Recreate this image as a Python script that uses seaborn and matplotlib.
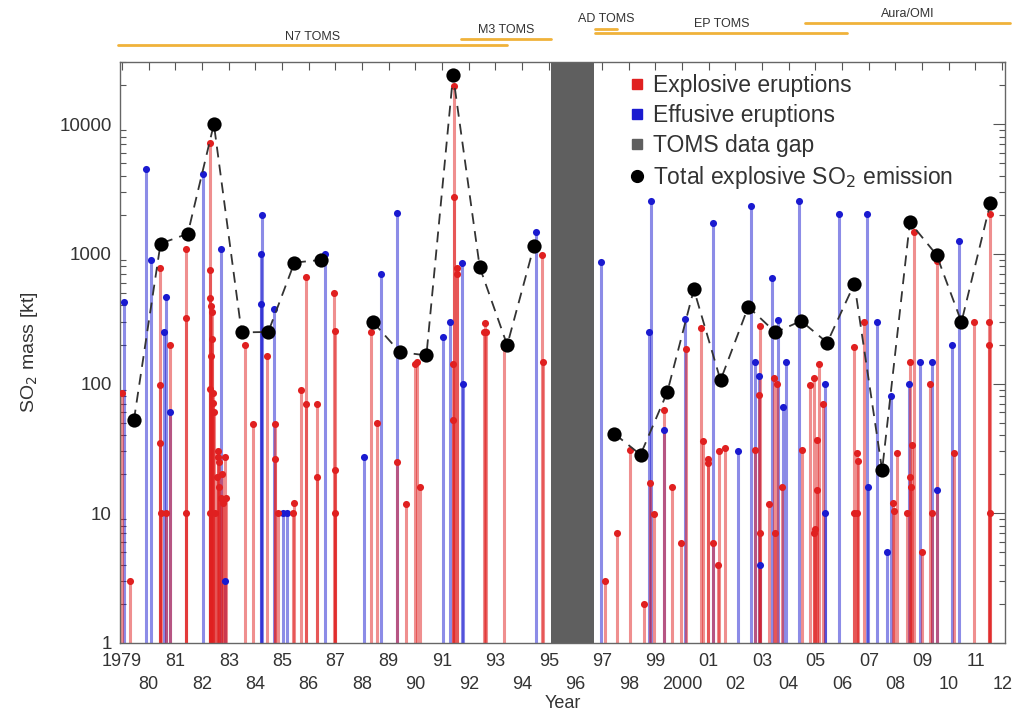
"""
Volcanic SO2 emissions 1979-2011 (TOMS / OMI era): stem plot on a log axis.
"""
import matplotlib
matplotlib.use("Agg")
import matplotlib.pyplot as plt
import matplotlib.transforms as mtransforms
from matplotlib.lines import Line2D
import pandas as pd
import seaborn as sns

# ---- explosive eruptions (red): decimal year, SO2 mass [kt]
EXPL_YEAR = [
    1979.00, 1979.28,
    1980.41, 1980.41, 1980.43, 1980.45, 1980.78, 1980.65,
    1981.38, 1981.38, 1981.38,
    1982.31, 1982.28, 1982.30, 1982.33, 1982.36, 1982.38, 1982.32, 1982.30,
    1982.40, 1982.42, 1982.60, 1982.65, 1982.55, 1982.62, 1982.70, 1982.30,
    1982.50, 1982.45, 1982.58, 1982.75, 1982.80, 1982.85, 1982.90,
    1983.60, 1983.91,
    1984.44, 1984.72, 1984.72, 1984.85, 1985.40, 1985.46,
    1985.72, 1985.90, 1985.90,
    1986.31, 1986.31, 1986.94, 1986.97, 1986.97, 1986.97,
    1988.34, 1988.54,
    1989.31, 1989.66,
    1990.00, 1990.06, 1990.16,
    1991.44, 1991.44, 1991.42, 1991.42, 1991.56, 1991.56,
    1992.56, 1992.62, 1992.65,
    1993.32,
    1994.75, 1994.77,
    1997.12, 1997.54,
    1998.04, 1998.56, 1998.79, 1998.94,
    1999.31, 1999.62, 1999.94,
    2000.15, 2000.69, 2000.77, 2000.96, 2000.98,
    2001.16, 2001.35, 2001.37, 2001.62,
    2002.75, 2002.87, 2002.91, 2002.91,
    2003.25, 2003.46, 2003.56, 2003.50, 2003.75,
    2004.50, 2004.79, 2004.94, 2005.04, 2005.04, 2004.96, 2005.00,
    2005.12, 2005.29,
    2006.46, 2006.81, 2006.56, 2006.58, 2006.56, 2006.46,
    2007.91, 2007.93,
    2008.06, 2008.69, 2008.56, 2008.62, 2008.54, 2008.44, 2008.58,
    2009.00, 2009.54, 2009.31, 2009.375,
    2010.19, 2010.94,
    2011.50, 2011.50, 2011.54, 2011.56,
]
EXPL_KT = [
    85, 3,
    780, 97, 35, 10, 200, 10,
    1100, 318, 10,
    7100, 757, 453, 395, 356, 221, 162, 91,
    85, 71, 27, 25, 19, 16, 13, 10,
    10, 60, 30, 20, 12, 27, 13,
    200, 49,
    164, 49, 26, 10, 10, 12,
    89, 660, 70,
    70, 19, 500, 253, 21.5, 10,
    251, 49.5,
    24.7, 11.7,
    141, 146, 15.9,
    19800, 2735, 141, 52, 774, 699,
    251, 292, 251,
    190,
    984, 147,
    3, 7,
    31, 2, 17, 9.8,
    62, 15.9, 5.9,
    185, 269, 36, 24.6, 26,
    5.9, 4, 30, 32,
    31, 81.5, 278, 7,
    11.7, 111, 100, 7, 16,
    31, 97, 111, 37, 15, 7, 7.5,
    141, 69,
    191, 298, 29, 25.5, 10, 10,
    12, 10.5,
    29, 1480, 146, 33.6, 19, 10, 16,
    5, 880, 100, 10,
    29, 298,
    298, 198, 10, 2013,
]

# ---- effusive eruptions (blue)
EFFU_YEAR = [
    1979.06, 1979.90, 1980.09, 1980.56, 1980.65, 1980.81,
    1982.03, 1982.71, 1982.84,
    1984.23, 1984.20, 1984.22, 1984.69, 1985.05, 1985.20, 1986.60,
    1988.06, 1988.69, 1989.31,
    1991.04, 1991.31, 1991.75, 1991.77, 1994.52,
    1996.94, 1998.75, 1998.84, 1999.31, 2000.12, 2001.15,
    2002.10, 2002.60, 2002.75, 2002.87, 2002.91,
    2003.37, 2003.59, 2003.79, 2003.91, 2004.375,
    2005.37, 2005.34, 2005.875, 2006.94, 2006.96,
    2007.31, 2007.69, 2007.84, 2008.50, 2008.91,
    2009.375, 2009.56, 2010.125, 2010.375,
]
EFFU_KT = [
    423, 4550, 900, 250, 462, 60,
    4140, 1100, 3,
    2010, 1000, 408, 374, 10, 10, 1000,
    27, 699, 2080,
    227, 298, 846, 100, 1480,
    858, 248, 2555, 44, 312, 1730,
    30, 2340, 146, 115, 4,
    653, 308, 66, 146, 2555,
    100, 10, 2013, 2013, 16,
    298, 5, 80, 100, 146,
    146, 15, 198, 1249,
]

# ---- annual total explosive SO2 (black), segments split at data breaks
TOTAL_YEAR = [
    1979.44, 1980.44, 1981.46, 1982.44, 1983.48, 1984.48, 1985.46, 1986.44,
    1988.41, 1989.41, 1990.41, 1991.41, 1992.41, 1993.44, 1994.44,
    1997.46, 1998.44, 1999.44, 2000.44, 2001.44, 2002.48, 2003.50, 2004.46,
    2005.44, 2006.46, 2007.50, 2008.54, 2009.54, 2010.475, 2011.56,
]
TOTAL_KT = [
    52, 1200, 1430, 10000, 248, 250, 857, 897,
    298, 175, 165, 23800, 790, 198, 1142,
    41, 28.3, 85.5, 532, 106, 391, 248, 304,
    207, 589, 21.5, 1755, 983, 298, 2470,
]
TOTAL_SEGMENT = [0] * 8 + [1] * 7 + [2] * 15

GAP_START, GAP_END = 1995.1, 1996.68

# ---- satellite instruments (name, start, end, bar height / label height in axes coords)
INSTR_NAME = ["N7 TOMS", "M3 TOMS", "AD TOMS", "EP TOMS", "Aura/OMI"]
INSTR_START = [1978.85, 1991.70, 1996.75, 1996.75, 2004.60]
INSTR_END = [1993.45, 1995.10, 1997.55, 2006.20, 2012.30]
INSTR_BAR_Y = [1.029, 1.040, 1.057, 1.050, 1.067]
INSTR_TXT_Y = [1.043, 1.055, 1.075, 1.066, 1.084]

YEARS = list(range(1979, 2013))

RED = "#e02020"
BLUE = "#1a1ad0"
GAP = "#5f5f5f"
TEXT = "#333333"
TICK = "#555555"

sns.set_style("white")
plt.rcParams["font.family"] = ["Liberation Sans", "DejaVu Sans"]

expl = pd.DataFrame({"year": EXPL_YEAR, "kt": EXPL_KT})
effu = pd.DataFrame({"year": EFFU_YEAR, "kt": EFFU_KT})
total = pd.DataFrame({"year": TOTAL_YEAR, "kt": TOTAL_KT, "segment": TOTAL_SEGMENT})

fig = plt.figure(figsize=(10.17, 7.16), dpi=100)
ax = fig.add_axes([0.118, 0.102, 0.870, 0.811])
ax.set_yscale("log")

ax.axvspan(GAP_START, GAP_END, color=GAP, lw=0, zorder=1)

# stems
ax.vlines(effu["year"], 0.8, effu["kt"], colors=BLUE, lw=2.2, alpha=0.5, zorder=2)
ax.vlines(expl["year"], 0.8, expl["kt"], colors=RED, lw=2.2, alpha=0.5, zorder=2)

sns.scatterplot(data=effu, x="year", y="kt", color=BLUE, s=26, linewidth=0, ax=ax, zorder=3)
sns.scatterplot(data=expl, x="year", y="kt", color=RED, s=26, linewidth=0, ax=ax, zorder=3)

sns.lineplot(data=total, x="year", y="kt", units="segment", estimator=None,
             color="#333333", lw=1.3, linestyle=(0, (6, 4)), ax=ax, zorder=4)
sns.scatterplot(data=total, x="year", y="kt", color="black", s=105, linewidth=0,
                ax=ax, zorder=5)

ax.set_xlim(1978.92, 2012.1)
ax.set_ylim(1, 30000)


def year_label(y):
    return str(y) if y in (1979, 2000) else f"{y % 100:02d}"


# x labels in two staggered rows: upper row on major ticks, lower row on minor ticks
upper = YEARS[0::2]
lower = YEARS[1::2]
ax.set_xticks(upper)
ax.set_xticklabels([year_label(y) for y in upper], fontsize=13, color=TEXT)
ax.set_xticks(lower, minor=True)
ax.set_xticklabels([year_label(y) for y in lower], minor=True, fontsize=13, color=TEXT)
ax.tick_params(axis="x", which="both", direction="in", top=True, length=6,
               width=0.8, color=TICK)
ax.tick_params(axis="x", which="major", pad=7)
ax.tick_params(axis="x", which="minor", pad=24)

ax.set_yticks([1, 10, 100, 1000, 10000])
ax.set_yticklabels(["1", "10", "100", "1000", "10000"], fontsize=13.5, color=TEXT)
ax.tick_params(axis="y", which="major", direction="in", right=True, pad=6,
               length=9, width=0.8, color=TICK)
ax.tick_params(axis="y", which="minor", direction="in", left=True, right=True,
               length=4.5, width=0.8, color=TICK)
for s in ax.spines.values():
    s.set_color("#666666")
    s.set_linewidth(1.0)

ax.set_xlabel("Year", fontsize=13, color=TEXT, labelpad=1)
ax.set_ylabel("SO$_2$ mass [kt]", fontsize=14, color=TEXT, labelpad=14)

# instrument coverage bars above the axes
trans = mtransforms.blended_transform_factory(ax.transData, ax.transAxes)
for name, x0, x1, yb, yt in zip(INSTR_NAME, INSTR_START, INSTR_END, INSTR_BAR_Y, INSTR_TXT_Y):
    ax.plot([x0, x1], [yb, yb], color="#f0b23a", lw=2, transform=trans, clip_on=False)
    ax.text((x0 + x1) / 2 if name != "AD TOMS" else x0 + 0.4, yt, name, transform=trans,
            ha="center", va="center", fontsize=9, color=TEXT)

handles = [
    Line2D([], [], marker="s", ls="", color=RED, markersize=7),
    Line2D([], [], marker="s", ls="", color=BLUE, markersize=7),
    Line2D([], [], marker="s", ls="", color=GAP, markersize=7),
    Line2D([], [], marker="o", ls="", color="black", markersize=8.5),
]
labels = ["Explosive eruptions", "Effusive eruptions", "TOMS data gap",
          "Total explosive SO$_2$ emission"]
leg = ax.legend(handles, labels, loc="upper left", bbox_to_anchor=(0.562, 0.995),
                frameon=False, fontsize=16.5, handletextpad=0.25, labelspacing=0.3,
                handlelength=0.9, borderaxespad=0)
for t in leg.get_texts():
    t.set_color(TEXT)

fig.savefig("out.png", dpi=100)
